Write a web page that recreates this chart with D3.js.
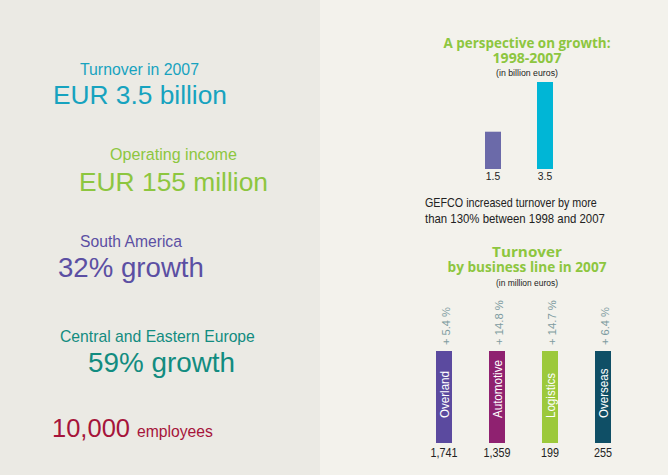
<!DOCTYPE html>
<html>
<head>
<meta charset="utf-8">
<script src="https://cdn.jsdelivr.net/npm/d3@7"></script>
<style>
  html, body { margin: 0; padding: 0; background: #f3f2ec; }
  svg { display: block; }
</style>
</head>
<body>
<svg id="chart" width="668" height="475"></svg>
<script>
// ---- Data ----
const kpiLabels = ["Turnover in 2007", "Operating income", "South America", "Central and Eastern Europe"];
const kpiValues = ["EUR 3.5 billion", "EUR 155 million", "32% growth", "59% growth"];
const employeesValue = "10,000";
const employeesLabel = "employees";

const growthYears = ["1998", "2007"];
const growthValues = [1.5, 3.5];
const growthValueLabels = ["1.5", "3.5"];

const businessLines = ["Overland", "Automotive", "Logistics", "Overseas"];
const businessTurnover = [1741, 1359, 199, 255];
const businessGrowth = [5.4, 14.8, 14.7, 6.4];

// ---- Styles ----
const kpiColors = ["#17a3bf", "#8dc63f", "#5b4fa3", "#128c80"];
const growthColors = ["#6b6aa9", "#00b6d6"];
const businessColors = ["#5b4a9f", "#8f2170", "#9cc93b", "#0f4f66"];
const green = "#8dc63f";
const sansFont = "'Open Sans', 'DejaVu Sans', sans-serif";
const kpiFont = "'Liberation Sans', 'DejaVu Sans', sans-serif";
const narrowFont = "'Liberation Sans', 'DejaVu Sans', sans-serif";

const svg = d3.select("#chart");

svg.append("rect").attr("x", 0).attr("y", 0).attr("width", 320).attr("height", 475).attr("fill", "#ebeae4");
svg.append("rect").attr("x", 320).attr("y", 0).attr("width", 348).attr("height", 475).attr("fill", "#f3f2ec");

function fit(sel, w) {
  const len = sel.node().getComputedTextLength();
  if (len > 0) sel.attr("font-size", (parseFloat(sel.attr("font-size")) * w / len).toFixed(2));
  return sel;
}
function cond(parent, x, y, txt, opts) {
  const t = parent.append("text").attr("font-family", opts.font || narrowFont)
    .attr("font-size", opts.size).attr("fill", opts.fill)
    .attr("font-weight", opts.weight || "normal")
    .attr("text-anchor", opts.anchor || "start").text(txt);
  let sx = opts.sx;
  if (sx === undefined) {
    const len = t.node().getComputedTextLength();
    sx = len > 0 ? opts.w / len : 1;
  }
  t.attr("transform", `translate(${x},${y}) rotate(${opts.rot || 0}) scale(${sx},1)`);
  return t;
}
function measure(txt, size, font, weight) {
  const t = svg.append("text").attr("font-family", font).attr("font-size", size)
    .attr("font-weight", weight || "normal").text(txt);
  const l = t.node().getComputedTextLength();
  t.remove();
  return l;
}

// ---- Left KPIs ----
const kpiLayout = [
  { lx: 80, ly: 75, lw: 119, vx: 53, vy: 104, vw: 174 },
  { lx: 110, ly: 160, lw: 127, vx: 79, vy: 191, vw: 189 },
  { lx: 80, ly: 247, lw: 102, vx: 58, vy: 277, vw: 146 },
  { lx: 60, ly: 342, lw: 195, vx: 88, vy: 372, vw: 147 }
];
kpiLabels.forEach((lab, i) => {
  const L = kpiLayout[i];
  fit(svg.append("text").attr("x", L.lx).attr("y", L.ly)
    .attr("font-family", kpiFont).attr("font-size", 15)
    .attr("fill", kpiColors[i]).text(lab), L.lw);
  fit(svg.append("text").attr("x", L.vx).attr("y", L.vy)
    .attr("font-family", kpiFont).attr("font-size", 27)
    .attr("fill", kpiColors[i]).text(kpiValues[i]), L.vw);
});
fit(svg.append("text").attr("x", 52).attr("y", 437)
  .attr("font-family", kpiFont).attr("font-size", 23)
  .attr("fill", "#a6143a").text(employeesValue), 78);
fit(svg.append("text").attr("x", 137).attr("y", 437)
  .attr("font-family", kpiFont).attr("font-size", 15)
  .attr("fill", "#a6143a").text(employeesLabel), 76);

// ---- Titles ----
const cx = 527;
function title(lines, widths, y0, sub, subW, subY) {
  lines.forEach((t, i) => {
    cond(svg, cx, y0 + i * 15, t, { font: sansFont, weight: "bold", size: 15, fill: green, anchor: "middle", w: widths[i] });
  });
  cond(svg, cx, subY, sub, { size: 9, fill: "#222", anchor: "middle", w: subW });
}
title(["A perspective on growth:", "1998-2007"], [167, 69], 48, "(in billion euros)", 62, 76);

// ---- Growth chart ----
const gx = d3.scalePoint().domain(growthYears).range([493, 545]);
const gy = d3.scaleLinear().domain([0, 3.5]).range([169, 82]);
const gBarW = 16;
svg.append("g").selectAll("rect").data(growthYears).join("rect")
  .attr("x", d => gx(d) - gBarW / 2)
  .attr("y", (d, i) => gy(growthValues[i]))
  .attr("width", gBarW)
  .attr("height", (d, i) => gy(0) - gy(growthValues[i]))
  .attr("fill", (d, i) => growthColors[i]);
growthYears.forEach((d, i) => {
  cond(svg, gx(d), 180, growthValueLabels[i], { size: 11.5, fill: "#222", anchor: "middle", sx: 0.9 });
});

cond(svg, 425, 207, "GEFCO increased turnover by more", { size: 12.5, fill: "#222", w: 172 });
cond(svg, 425, 223, "than 130% between 1998 and 2007", { size: 12.5, fill: "#222", w: 180 });

// ---- Business line chart ----
title(["Turnover", "by business line in 2007"], [70, 159], 257, "(in million euros)", 62, 286);

const bx = d3.scalePoint().domain(businessLines).range([444, 603]);
const bTop = 351, bBottom = 443, bBarW = 16;
const bg = svg.append("g");
bg.selectAll("rect").data(businessLines).join("rect")
  .attr("x", d => bx(d) - bBarW / 2).attr("y", bTop)
  .attr("width", bBarW).attr("height", bBottom - bTop)
  .attr("fill", (d, i) => businessColors[i]);

const nameSx = 58 / measure("Automotive", 13, narrowFont);
businessLines.forEach((d, i) => {
  cond(bg, bx(d) + 5, 418, d, { size: 13, fill: "#fff", rot: -90, sx: nameSx });
});
const growthLabels = businessGrowth.map(v => "+ " + d3.format(".1f")(v) + " %");
const growthLabelLen = [38, 45, 45, 38];
businessLines.forEach((d, i) => {
  cond(bg, bx(d) + 5.5, 345, growthLabels[i], { size: 10, fill: "#7d9ba0", rot: -90, w: growthLabelLen[i] });
});
businessLines.forEach((d, i) => {
  cond(bg, bx(d), 457, d3.format(",")(businessTurnover[i]), { size: 12, fill: "#222", anchor: "middle", sx: 0.9 });
});
</script>
</body>
</html>
